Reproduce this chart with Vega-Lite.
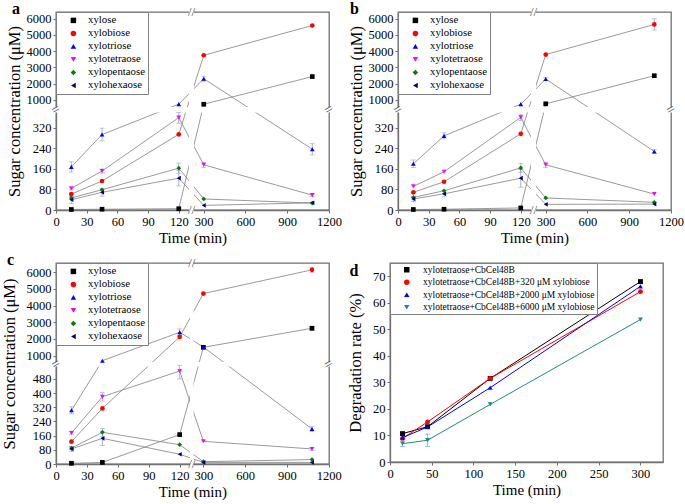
{
"$schema": "https://vega.github.io/schema/vega-lite/v6.json",
"padding": {"left": 0, "top": 0, "right": 0, "bottom": 0},
"datasets": {
"a": [
{"s":"xylose","t":15,"v":2},{"s":"xylose","t":45,"v":3},{"s":"xylose","t":120,"v":5},{"s":"xylose","t":300,"v":730},{"s":"xylose","t":1080,"v":2430},
{"s":"xylobiose","t":15,"v":62},{"s":"xylobiose","t":45,"v":113},{"s":"xylobiose","t":120,"v":295},{"s":"xylobiose","t":300,"v":3740},{"s":"xylobiose","t":1080,"v":5570},
{"s":"xylotriose","t":15,"v":168,"e":20},{"s":"xylotriose","t":45,"v":294,"e":25},{"s":"xylotriose","t":120,"v":735},{"s":"xylotriose","t":300,"v":2300,"e":150},{"s":"xylotriose","t":1080,"v":237,"e":22},
{"s":"xylotetraose","t":15,"v":84,"e":6},{"s":"xylotetraose","t":45,"v":152,"e":8},{"s":"xylotetraose","t":120,"v":360,"e":22},{"s":"xylotetraose","t":300,"v":176,"e":10},{"s":"xylotetraose","t":1080,"v":58,"e":6},
{"s":"xylopentaose","t":15,"v":47,"e":6},{"s":"xylopentaose","t":45,"v":79},{"s":"xylopentaose","t":120,"v":163,"e":20},{"s":"xylopentaose","t":300,"v":43},{"s":"xylopentaose","t":1080,"v":27},
{"s":"xylohexaose","t":15,"v":40,"e":15},{"s":"xylohexaose","t":45,"v":69,"e":15},{"s":"xylohexaose","t":120,"v":124,"e":30},{"s":"xylohexaose","t":300,"v":18},{"s":"xylohexaose","t":1080,"v":28}
],
"b": [
{"s":"xylose","t":15,"v":2},{"s":"xylose","t":45,"v":3},{"s":"xylose","t":120,"v":8},{"s":"xylose","t":300,"v":756},{"s":"xylose","t":1080,"v":2484},
{"s":"xylobiose","t":15,"v":69},{"s":"xylobiose","t":45,"v":110},{"s":"xylobiose","t":120,"v":297},{"s":"xylobiose","t":300,"v":3785},{"s":"xylobiose","t":1080,"v":5634,"e":350},
{"s":"xylotriose","t":15,"v":180,"e":15},{"s":"xylotriose","t":45,"v":289,"e":12},{"s":"xylotriose","t":120,"v":736},{"s":"xylotriose","t":300,"v":2280,"e":100},{"s":"xylotriose","t":1080,"v":228,"e":8},
{"s":"xylotetraose","t":15,"v":92},{"s":"xylotetraose","t":45,"v":149},{"s":"xylotetraose","t":120,"v":361,"e":12},{"s":"xylotetraose","t":300,"v":176,"e":10},{"s":"xylotetraose","t":1080,"v":62},
{"s":"xylopentaose","t":15,"v":49},{"s":"xylopentaose","t":45,"v":75},{"s":"xylopentaose","t":120,"v":164,"e":18},{"s":"xylopentaose","t":300,"v":47},{"s":"xylopentaose","t":1080,"v":30},
{"s":"xylohexaose","t":15,"v":43,"e":10},{"s":"xylohexaose","t":45,"v":63,"e":12},{"s":"xylohexaose","t":120,"v":124,"e":35},{"s":"xylohexaose","t":300,"v":22},{"s":"xylohexaose","t":1080,"v":23}
],
"c": [
{"s":"xylose","t":15,"v":4},{"s":"xylose","t":45,"v":9},{"s":"xylose","t":120,"v":166},{"s":"xylose","t":300,"v":1500},{"s":"xylose","t":1080,"v":2640,"e":120},
{"s":"xylobiose","t":15,"v":126},{"s":"xylobiose","t":45,"v":314},{"s":"xylobiose","t":120,"v":2120},{"s":"xylobiose","t":300,"v":4720,"e":80},{"s":"xylobiose","t":1080,"v":6140,"e":150},
{"s":"xylotriose","t":15,"v":303,"e":20},{"s":"xylotriose","t":45,"v":700},{"s":"xylotriose","t":120,"v":2400,"e":200},{"s":"xylotriose","t":300,"v":1520},{"s":"xylotriose","t":1080,"v":198,"e":15},
{"s":"xylotetraose","t":15,"v":175,"e":10},{"s":"xylotetraose","t":45,"v":380,"e":25},{"s":"xylotetraose","t":120,"v":525,"e":45},{"s":"xylotetraose","t":300,"v":128},{"s":"xylotetraose","t":1080,"v":85,"e":8},
{"s":"xylopentaose","t":15,"v":90,"e":8},{"s":"xylopentaose","t":45,"v":179,"e":22},{"s":"xylopentaose","t":120,"v":109},{"s":"xylopentaose","t":300,"v":13},{"s":"xylopentaose","t":1080,"v":25},
{"s":"xylohexaose","t":15,"v":85,"e":15},{"s":"xylohexaose","t":45,"v":145,"e":40},{"s":"xylohexaose","t":120,"v":55},{"s":"xylohexaose","t":300,"v":9},{"s":"xylohexaose","t":1080,"v":9}
],
"d": [
{"s":"xylotetraose+CbCel48B","t":15,"v":10.7},{"s":"xylotetraose+CbCel48B","t":45,"v":13.3},{"s":"xylotetraose+CbCel48B","t":120,"v":31.5},{"s":"xylotetraose+CbCel48B","t":300,"v":68},
{"s":"xylotetraose+CbCel48B+320 μM xylobiose","t":15,"v":8.9},{"s":"xylotetraose+CbCel48B+320 μM xylobiose","t":45,"v":15.1},{"s":"xylotetraose+CbCel48B+320 μM xylobiose","t":120,"v":31.5},{"s":"xylotetraose+CbCel48B+320 μM xylobiose","t":300,"v":64.2},
{"s":"xylotetraose+CbCel48B+2000 μM xylobiose","t":15,"v":9.2},{"s":"xylotetraose+CbCel48B+2000 μM xylobiose","t":45,"v":13.2},{"s":"xylotetraose+CbCel48B+2000 μM xylobiose","t":120,"v":28},{"s":"xylotetraose+CbCel48B+2000 μM xylobiose","t":300,"v":66.2},
{"s":"xylotetraose+CbCel48B+6000 μM xylobiose","t":15,"v":6.9,"e":1},{"s":"xylotetraose+CbCel48B+6000 μM xylobiose","t":45,"v":8.2,"e":2.3},{"s":"xylotetraose+CbCel48B+6000 μM xylobiose","t":120,"v":21.7},{"s":"xylotetraose+CbCel48B+6000 μM xylobiose","t":300,"v":53.7}
]
},
"resolve": {"scale": {"color": "independent", "shape": "independent"}},
"spacing": 4,
"vconcat": [
{"hconcat": [
{
"width": 273, "height": 198,
"title": {"text": "a", "dx": 6},
"data": {"name": "a"},
"layer": [
{"encoding": {
"x": {"field":"t","type":"quantitative","scale":{"domain":[0,130,230,1200],"range":[0,133,138,273],"nice":false,"zero":false},"axis":{"values":[0,30,60,90,120,300,600,900,1200],"title":"Time (min)"}},
"y": {"field":"v","type":"quantitative","scale":{"domain":[0,380,560,6400],"range":[198,100.5,95,0],"nice":false,"zero":false},"axis":{"values":[0,80,160,240,320,1000,2000,3000,4000,5000,6000],"title":"Sugar concentration (μM)"}}},
"layer": [{"mark":{"type":"line","color":"#808080","strokeWidth":0.8},"encoding":{"detail":{"field":"s"}}}]},
{"data":{"values":[{}]},"mark":{"type":"rect","color":"white"},"encoding":{"x":{"datum":130,"axis":{"values":[0,30,60,90,120,300,600,900,1200],"title":"Time (min)"}},"x2":{"datum":230},"y":{"datum":-10,"axis":{"values":[0,80,160,240,320,1000,2000,3000,4000,5000,6000],"title":"Sugar concentration (μM)"}},"y2":{"datum":6500}}},
{"data":{"values":[{}]},"mark":{"type":"rect","color":"white"},"encoding":{"y":{"datum":380,"axis":{"values":[0,80,160,240,320,1000,2000,3000,4000,5000,6000],"title":"Sugar concentration (μM)"}},"y2":{"datum":560},"x":{"datum":-5,"axis":{"values":[0,30,60,90,120,300,600,900,1200],"title":"Time (min)"}},"x2":{"datum":1240}}},
{"encoding": {
"x": {"field":"t","type":"quantitative","axis":{"values":[0,30,60,90,120,300,600,900,1200],"title":"Time (min)"}},
"y": {"field":"v","type":"quantitative","axis":{"values":[0,80,160,240,320,1000,2000,3000,4000,5000,6000],"title":"Sugar concentration (μM)"}}},
"layer": [
{"transform":[{"filter":"datum.e > 0"}],"mark":{"type":"errorbar","ticks":true,"size":5,"thickness":0.8,"color":"#9a9ad8"},"encoding":{"yError":{"field":"e"}}},
{"mark":{"type":"point","filled":true,"size":22,"opacity":1},"encoding":{
"color":{"field":"s","scale":{"domain":["xylose","xylobiose","xylotriose","xylotetraose","xylopentaose","xylohexaose"],"range":["#000000","#ff0000","#0000ff","#ff00ff","#008000","#000080"]},"legend":{"title":null}},
"shape":{"field":"s","scale":{"domain":["xylose","xylobiose","xylotriose","xylotetraose","xylopentaose","xylohexaose"],"range":["square","circle","triangle-up","triangle-down","diamond","triangle-left"]},"legend":{"title":null}}}}
]},
{"data":{"values":[{}]},"mark":{"type":"text","text":"//","fontSize":13,"color":"#555"},"encoding":{"x":{"datum":180,"axis":{"values":[0,30,60,90,120,300,600,900,1200],"title":"Time (min)"}},"y":{"datum":0,"axis":{"values":[0,80,160,240,320,1000,2000,3000,4000,5000,6000],"title":"Sugar concentration (μM)"}}}},
{"data":{"values":[{}]},"mark":{"type":"text","text":"//","fontSize":13,"color":"#555"},"encoding":{"x":{"datum":180,"axis":{"values":[0,30,60,90,120,300,600,900,1200],"title":"Time (min)"}},"y":{"datum":6400,"axis":{"values":[0,80,160,240,320,1000,2000,3000,4000,5000,6000],"title":"Sugar concentration (μM)"}}}},
{"data":{"values":[{}]},"mark":{"type":"text","text":"=","fontSize":14,"angle":-30,"color":"#555"},"encoding":{"x":{"datum":0,"axis":{"values":[0,30,60,90,120,300,600,900,1200],"title":"Time (min)"}},"y":{"datum":470,"axis":{"values":[0,80,160,240,320,1000,2000,3000,4000,5000,6000],"title":"Sugar concentration (μM)"}}}},
{"data":{"values":[{}]},"mark":{"type":"text","text":"=","fontSize":14,"angle":-30,"color":"#555"},"encoding":{"x":{"datum":1200,"axis":{"values":[0,30,60,90,120,300,600,900,1200],"title":"Time (min)"}},"y":{"datum":470,"axis":{"values":[0,80,160,240,320,1000,2000,3000,4000,5000,6000],"title":"Sugar concentration (μM)"}}}}
]
},
{
"width": 273, "height": 198,
"title": {"text": "b", "dx": 2},
"data": {"name": "b"},
"layer": [
{"encoding": {
"x": {"field":"t","type":"quantitative","scale":{"domain":[0,130,230,1200],"range":[0,133,138,273],"nice":false,"zero":false},"axis":{"values":[0,30,60,90,120,300,600,900,1200],"title":"Time (min)"}},
"y": {"field":"v","type":"quantitative","scale":{"domain":[0,380,560,6400],"range":[198,100.5,95,0],"nice":false,"zero":false},"axis":{"values":[0,80,160,240,320,1000,2000,3000,4000,5000,6000],"title":"Sugar concentration (μM)"}}},
"layer": [{"mark":{"type":"line","color":"#808080","strokeWidth":0.8},"encoding":{"detail":{"field":"s"}}}]},
{"data":{"values":[{}]},"mark":{"type":"rect","color":"white"},"encoding":{"x":{"datum":130,"axis":{"values":[0,30,60,90,120,300,600,900,1200],"title":"Time (min)"}},"x2":{"datum":230},"y":{"datum":-10,"axis":{"values":[0,80,160,240,320,1000,2000,3000,4000,5000,6000],"title":"Sugar concentration (μM)"}},"y2":{"datum":6500}}},
{"data":{"values":[{}]},"mark":{"type":"rect","color":"white"},"encoding":{"y":{"datum":380,"axis":{"values":[0,80,160,240,320,1000,2000,3000,4000,5000,6000],"title":"Sugar concentration (μM)"}},"y2":{"datum":560},"x":{"datum":-5,"axis":{"values":[0,30,60,90,120,300,600,900,1200],"title":"Time (min)"}},"x2":{"datum":1240}}},
{"encoding": {
"x": {"field":"t","type":"quantitative","axis":{"values":[0,30,60,90,120,300,600,900,1200],"title":"Time (min)"}},
"y": {"field":"v","type":"quantitative","axis":{"values":[0,80,160,240,320,1000,2000,3000,4000,5000,6000],"title":"Sugar concentration (μM)"}}},
"layer": [
{"transform":[{"filter":"datum.e > 0"}],"mark":{"type":"errorbar","ticks":true,"size":5,"thickness":0.8,"color":"#9a9ad8"},"encoding":{"yError":{"field":"e"}}},
{"mark":{"type":"point","filled":true,"size":22,"opacity":1},"encoding":{
"color":{"field":"s","scale":{"domain":["xylose","xylobiose","xylotriose","xylotetraose","xylopentaose","xylohexaose"],"range":["#000000","#ff0000","#0000ff","#ff00ff","#008000","#000080"]},"legend":{"title":null}},
"shape":{"field":"s","scale":{"domain":["xylose","xylobiose","xylotriose","xylotetraose","xylopentaose","xylohexaose"],"range":["square","circle","triangle-up","triangle-down","diamond","triangle-left"]},"legend":{"title":null}}}}
]},
{"data":{"values":[{}]},"mark":{"type":"text","text":"//","fontSize":13,"color":"#555"},"encoding":{"x":{"datum":180,"axis":{"values":[0,30,60,90,120,300,600,900,1200],"title":"Time (min)"}},"y":{"datum":0,"axis":{"values":[0,80,160,240,320,1000,2000,3000,4000,5000,6000],"title":"Sugar concentration (μM)"}}}},
{"data":{"values":[{}]},"mark":{"type":"text","text":"//","fontSize":13,"color":"#555"},"encoding":{"x":{"datum":180,"axis":{"values":[0,30,60,90,120,300,600,900,1200],"title":"Time (min)"}},"y":{"datum":6400,"axis":{"values":[0,80,160,240,320,1000,2000,3000,4000,5000,6000],"title":"Sugar concentration (μM)"}}}},
{"data":{"values":[{}]},"mark":{"type":"text","text":"=","fontSize":14,"angle":-30,"color":"#555"},"encoding":{"x":{"datum":0,"axis":{"values":[0,30,60,90,120,300,600,900,1200],"title":"Time (min)"}},"y":{"datum":470,"axis":{"values":[0,80,160,240,320,1000,2000,3000,4000,5000,6000],"title":"Sugar concentration (μM)"}}}},
{"data":{"values":[{}]},"mark":{"type":"text","text":"=","fontSize":14,"angle":-30,"color":"#555"},"encoding":{"x":{"datum":1200,"axis":{"values":[0,30,60,90,120,300,600,900,1200],"title":"Time (min)"}},"y":{"datum":470,"axis":{"values":[0,80,160,240,320,1000,2000,3000,4000,5000,6000],"title":"Sugar concentration (μM)"}}}}
]
}
], "spacing": 4, "resolve": {"scale": {"color": "independent", "shape": "independent"}}},
{"hconcat": [
{
"width": 273, "height": 201,
"title": {"text": "c", "dx": 6},
"data": {"name": "c"},
"layer": [
{"encoding": {
"x": {"field":"t","type":"quantitative","scale":{"domain":[0,130,230,1200],"range":[0,134,137.6,272.7],"nice":false,"zero":false},"axis":{"values":[0,30,60,90,120,300,600,900,1200],"title":"Time (min)"}},
"y": {"field":"v","type":"quantitative","scale":{"domain":[0,550,620,6550],"range":[201,103.6,99,0],"nice":false,"zero":false},"axis":{"values":[0,80,160,240,320,400,480,1000,2000,3000,4000,5000,6000],"title":"Sugar concentration (μM)","titlePadding":9}}},
"layer": [{"mark":{"type":"line","color":"#808080","strokeWidth":0.8},"encoding":{"detail":{"field":"s"}}}]},
{"data":{"values":[{}]},"mark":{"type":"rect","color":"white"},"encoding":{"x":{"datum":130,"axis":{"values":[0,30,60,90,120,300,600,900,1200],"title":"Time (min)"}},"x2":{"datum":230},"y":{"datum":-15,"axis":{"values":[0,80,160,240,320,400,480,1000,2000,3000,4000,5000,6000],"title":"Sugar concentration (μM)","titlePadding":9}},"y2":{"datum":6650}}},
{"data":{"values":[{}]},"mark":{"type":"rect","color":"white"},"encoding":{"y":{"datum":550,"axis":{"values":[0,80,160,240,320,400,480,1000,2000,3000,4000,5000,6000],"title":"Sugar concentration (μM)","titlePadding":9}},"y2":{"datum":620},"x":{"datum":-5,"axis":{"values":[0,30,60,90,120,300,600,900,1200],"title":"Time (min)"}},"x2":{"datum":1240}}},
{"encoding": {
"x": {"field":"t","type":"quantitative","axis":{"values":[0,30,60,90,120,300,600,900,1200],"title":"Time (min)"}},
"y": {"field":"v","type":"quantitative","axis":{"values":[0,80,160,240,320,400,480,1000,2000,3000,4000,5000,6000],"title":"Sugar concentration (μM)","titlePadding":9}}},
"layer": [
{"transform":[{"filter":"datum.e > 0"}],"mark":{"type":"errorbar","ticks":true,"size":5,"thickness":0.8,"color":"#9a9ad8"},"encoding":{"yError":{"field":"e"}}},
{"mark":{"type":"point","filled":true,"size":22,"opacity":1},"encoding":{
"color":{"field":"s","scale":{"domain":["xylose","xylobiose","xylotriose","xylotetraose","xylopentaose","xylohexaose"],"range":["#000000","#ff0000","#0000ff","#ff00ff","#008000","#000080"]},"legend":{"title":null}},
"shape":{"field":"s","scale":{"domain":["xylose","xylobiose","xylotriose","xylotetraose","xylopentaose","xylohexaose"],"range":["square","circle","triangle-up","triangle-down","diamond","triangle-left"]},"legend":{"title":null}}}}
]},
{"data":{"values":[{}]},"mark":{"type":"text","text":"//","fontSize":13,"color":"#555"},"encoding":{"x":{"datum":180,"axis":{"values":[0,30,60,90,120,300,600,900,1200],"title":"Time (min)"}},"y":{"datum":0,"axis":{"values":[0,80,160,240,320,400,480,1000,2000,3000,4000,5000,6000],"title":"Sugar concentration (μM)","titlePadding":9}}}},
{"data":{"values":[{}]},"mark":{"type":"text","text":"//","fontSize":13,"color":"#555"},"encoding":{"x":{"datum":180,"axis":{"values":[0,30,60,90,120,300,600,900,1200],"title":"Time (min)"}},"y":{"datum":6550,"axis":{"values":[0,80,160,240,320,400,480,1000,2000,3000,4000,5000,6000],"title":"Sugar concentration (μM)","titlePadding":9}}}},
{"data":{"values":[{}]},"mark":{"type":"text","text":"=","fontSize":14,"angle":-30,"color":"#555"},"encoding":{"x":{"datum":0,"axis":{"values":[0,30,60,90,120,300,600,900,1200],"title":"Time (min)"}},"y":{"datum":585,"axis":{"values":[0,80,160,240,320,400,480,1000,2000,3000,4000,5000,6000],"title":"Sugar concentration (μM)","titlePadding":9}}}},
{"data":{"values":[{}]},"mark":{"type":"text","text":"=","fontSize":14,"angle":-30,"color":"#555"},"encoding":{"x":{"datum":1200,"axis":{"values":[0,30,60,90,120,300,600,900,1200],"title":"Time (min)"}},"y":{"datum":585,"axis":{"values":[0,80,160,240,320,400,480,1000,2000,3000,4000,5000,6000],"title":"Sugar concentration (μM)","titlePadding":9}}}}
]
},
{
"width": 273, "height": 199,
"title": {"text": "d", "dx": 2, "dy": 5},
"data": {"name": "d"},
"encoding": {
"x": {"field":"t","type":"quantitative","scale":{"domain":[0,327],"nice":false,"zero":false},"axis":{"values":[0,50,100,150,200,250,300],"title":"Time (min)"}},
"y": {"field":"v","type":"quantitative","scale":{"domain":[0,75],"nice":false},"axis":{"values":[0,10,20,30,40,50,60,70],"title":"Degradation rate (%)","titlePadding":9}}
},
"layer": [
{"mark":{"type":"line","strokeWidth":1},"encoding":{"color":{"field":"s"}}},
{"transform":[{"filter":"datum.e > 0"}],"mark":{"type":"errorbar","ticks":true,"size":5,"thickness":0.8,"color":"#1f8a8a","opacity":0.6},"encoding":{"yError":{"field":"e"}}},
{"mark":{"type":"point","filled":true,"size":24,"opacity":1},"encoding":{
"color":{"field":"s","scale":{"domain":["xylotetraose+CbCel48B","xylotetraose+CbCel48B+320 μM xylobiose","xylotetraose+CbCel48B+2000 μM xylobiose","xylotetraose+CbCel48B+6000 μM xylobiose"],"range":["#000000","#ff0000","#0000ff","#1f8a8a"]},"legend":{"title":null,"symbolSize":30,"symbolOffset":10,"labelOffset":11.5,"labelFontSize":9.5,"labelLimit":400,"padding":2,"rowPadding":1.5}},
"shape":{"field":"s","scale":{"domain":["xylotetraose+CbCel48B","xylotetraose+CbCel48B+320 μM xylobiose","xylotetraose+CbCel48B+2000 μM xylobiose","xylotetraose+CbCel48B+6000 μM xylobiose"],"range":["square","circle","triangle-up","triangle-down"]},"legend":{"title":null,"symbolSize":30,"symbolOffset":10,"labelOffset":11.5,"labelFontSize":9.5,"labelLimit":400,"padding":2,"rowPadding":1.5}}}}
]
}
], "spacing": 4, "resolve": {"scale": {"color": "independent", "shape": "independent"}}}
],
"config": {
"font": "Liberation Serif",
"view": {"stroke": "#707070", "strokeWidth": 1.3},
"axis": {"grid": false, "domainColor": "#707070", "domainWidth": 1.3, "tickColor": "#707070", "tickSize": 3, "labelFont": "Liberation Serif", "labelFontSize": 12.5, "labelColor": "#000", "labelPadding": 2, "labelFlush": false, "labelOverlap": false, "titleFont": "Liberation Serif", "titleFontSize": 15, "titleFontWeight": "normal", "titleColor": "#000", "zindex": 0, "format": "d"},
"axisY": {"titleFontSize": 16.5, "titlePadding": 4},
"axisX": {"titlePadding": 3},
"legend": {"orient": "top-left", "offset": 0, "padding": 3, "strokeColor": "#808080", "fillColor": "white", "symbolSize": 30, "symbolOffset": 9, "labelOffset": 9.2, "rowPadding": 1, "labelFont": "Liberation Serif", "labelFontSize": 10.8, "labelColor": "#000", "symbolStrokeWidth": 0},
"title": {"font": "Liberation Serif", "fontSize": 16, "fontWeight": "bold", "anchor": "start", "frame": "bounds", "offset": -11, "color": "#000"}
}
}
